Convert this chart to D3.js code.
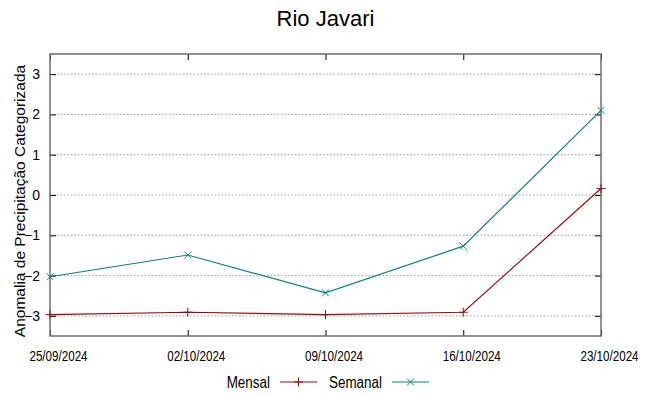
<!DOCTYPE html>
<html>
<head>
<meta charset="utf-8">
<script src="https://cdn.jsdelivr.net/npm/d3@7"></script>
<style>
  body { margin: 0; background: #fff; }
  text { font-family: "Liberation Sans", Arial, sans-serif; fill: #000; }
</style>
</head>
<body>
<div class="grafico"></div>
<script>
var width = 649, height = 396;
var margin = { top: 54, right: 48, bottom: 60, left: 50 };

// data
var datas = ["25/09/2024", "02/10/2024", "09/10/2024", "16/10/2024", "23/10/2024"];
var mensal = [-2.97, -2.91, -2.97, -2.91, 0.16];
var semanal = [-2.03, -1.49, -2.43, -1.27, 2.1];
var yTicks = [-3, -2, -1, 0, 1, 2, 3];

var corMensal = "#9b0a0a", corSemanal = "#0e8080", corBorda = "#6e6e6e";

var svg = d3.select(".grafico").append("svg")
  .attr("width", width)
  .attr("height", height);

var x = d3.scalePoint()
  .domain(datas)
  .range([margin.left, width - margin.right]);

var y = d3.scaleLinear()
  .domain([-3.5, 3.5])
  .range([height - margin.bottom, margin.top]);

var x0 = margin.left, x1 = width - margin.right;
var y0 = height - margin.bottom, y1 = margin.top;

// squeeze text horizontally (condensed look, no narrow font installed)
function condensa(sel, f) {
  sel.each(function () {
    var w = this.getComputedTextLength();
    d3.select(this)
      .attr("textLength", w * f)
      .attr("lengthAdjust", "spacingAndGlyphs");
  });
}

// grid lines (horizontal, dotted)
svg.append("g").selectAll("line")
  .data(yTicks)
  .enter().append("line")
  .attr("x1", x0).attr("x2", x1)
  .attr("y1", d => y(d)).attr("y2", d => y(d))
  .attr("stroke", "#a0a0a0")
  .attr("stroke-width", 1)
  .attr("stroke-dasharray", "1.5,2");

// y axis left + right (ticks pointing inward)
var axisL = svg.append("g")
  .attr("transform", "translate(" + x0 + ",0)")
  .call(d3.axisLeft(y).tickValues(yTicks).tickSize(-6).tickPadding(10).tickFormat(d3.format("d")));
var axisR = svg.append("g")
  .attr("transform", "translate(" + x1 + ",0)")
  .call(d3.axisRight(y).tickValues(yTicks).tickSize(-6).tickFormat(""));

// x axis bottom + top
var axisB = svg.append("g")
  .attr("transform", "translate(0," + y0 + ")")
  .call(d3.axisBottom(x).tickSize(-6).tickPadding(15));
var axisT = svg.append("g")
  .attr("transform", "translate(0," + y1 + ")")
  .call(d3.axisTop(x).tickSize(-6).tickFormat(""));

[axisL, axisR, axisB, axisT].forEach(function (a) {
  a.select(".domain").remove();
  a.attr("font-family", null);
  a.selectAll(".tick line").attr("stroke", "#000").attr("stroke-width", 1);
});

axisL.selectAll(".tick text")
  .attr("font-size", 14)
  .attr("fill", "#000");

axisB.selectAll(".tick text")
  .attr("font-size", 14)
  .attr("dx", 8)
  .attr("fill", "#000")
  .call(condensa, 0.83);

// plot frame
svg.append("rect")
  .attr("x", x0).attr("y", y1)
  .attr("width", x1 - x0).attr("height", y0 - y1)
  .attr("fill", "none")
  .attr("stroke", corBorda)
  .attr("stroke-width", 1.5);

// lines
var line = d3.line()
  .x((d, i) => x(datas[i]))
  .y(d => y(d));

svg.append("path")
  .datum(mensal)
  .attr("d", line)
  .attr("fill", "none")
  .attr("stroke", corMensal)
  .attr("stroke-width", 1.2);

svg.append("path")
  .datum(semanal)
  .attr("d", line)
  .attr("fill", "none")
  .attr("stroke", corSemanal)
  .attr("stroke-width", 1.2);

// point markers
function plus(g, cx, cy, s, c) {
  g.append("path")
    .attr("d", "M" + (cx - s) + "," + cy + "H" + (cx + s) + "M" + cx + "," + (cy - s) + "V" + (cy + s))
    .attr("stroke", c).attr("stroke-width", 1).attr("fill", "none");
}
function cross(g, cx, cy, s, c) {
  g.append("path")
    .attr("d", "M" + (cx - s) + "," + (cy - s) + "L" + (cx + s) + "," + (cy + s) +
      "M" + (cx - s) + "," + (cy + s) + "L" + (cx + s) + "," + (cy - s))
    .attr("stroke", c).attr("stroke-width", 1).attr("fill", "none");
}

var pts = svg.append("g");
mensal.forEach(function (v, i) { plus(pts, x(datas[i]), y(v), 4.5, corMensal); });
semanal.forEach(function (v, i) { cross(pts, x(datas[i]), y(v), 3.5, corSemanal); });

// title
svg.append("text")
  .attr("x", (x0 + x1) / 2)
  .attr("y", 26)
  .attr("text-anchor", "middle")
  .attr("font-size", 22)
  .text("Rio Javari");

// y label
svg.append("text")
  .attr("transform", "translate(25," + 201 + ") rotate(-90)")
  .attr("text-anchor", "middle")
  .attr("font-size", 15.5)
  .text("Anomalia de Precipitação Categorizada");

// legend
var legY = 382;
var legenda = [
  { nome: "Mensal", cor: corMensal, fim: 270, mk: plus },
  { nome: "Semanal", cor: corSemanal, fim: 382, mk: cross }
];
legenda.forEach(function (d) {
  svg.append("text")
    .attr("x", d.fim)
    .attr("y", legY + 6)
    .attr("text-anchor", "end")
    .attr("font-size", 16)
    .text(d.nome)
    .call(condensa, 0.84);
  svg.append("line")
    .attr("x1", d.fim + 10).attr("x2", d.fim + 47)
    .attr("y1", legY).attr("y2", legY)
    .attr("stroke", d.cor).attr("stroke-width", 1.2);
  d.mk(svg, d.fim + 28.5, legY, d.mk === plus ? 4.5 : 3.5, d.cor);
});
</script>
</body>
</html>
